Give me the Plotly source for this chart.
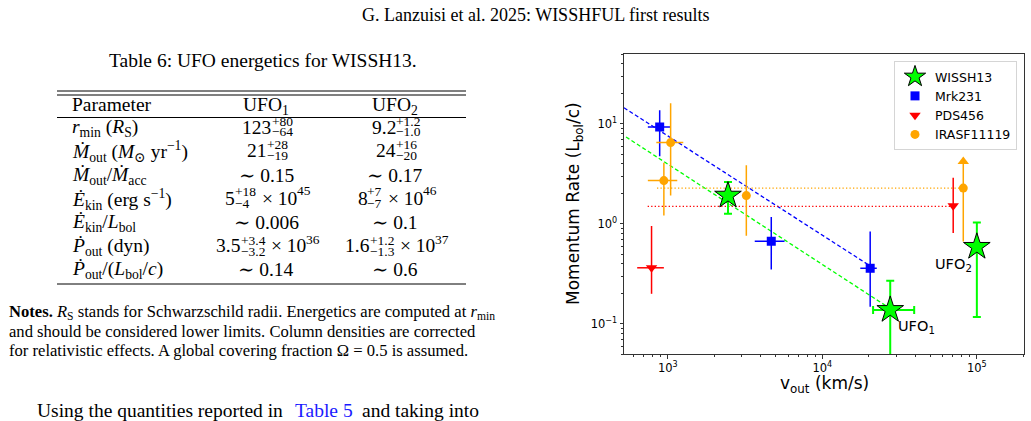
import math
import plotly.graph_objects as go

W, H = 1031, 421

# ---------------- chart data ----------------
wissh_x = [2450, 27500, 100000]
wissh_y = [1.92, 0.138, 0.59]
wissh_y_lo = [1.26, 0.01, 0.117]
wissh_y_hi = [2.63, 0.27, 1.03]
wissh_x_lo = [None, 21300, None]
wissh_x_hi = [None, 39300, None]

mrk_x = [885, 4670, 20400]
mrk_y = [9.3, 0.67, 0.36]
mrk_x_lo = [742, 3650, 17600]
mrk_x_hi = [1040, 5690, 22500]
mrk_y_lo = [4.75, 0.35, 0.148]
mrk_y_hi = [13.7, 1.17, 0.84]

pds_x = [784, 70300]
pds_y = [0.364, 1.52]
pds_x_lo = [633, None]
pds_x_hi = [942, None]
pds_y_lo = [0.2, 0.81]
pds_y_hi = [0.955, 2.9]

iras_x = [1042, 942, 3220, 81700]
iras_y = [6.5, 2.71, 1.92, 2.28]
iras_x_lo = [842, 742, None, None]
iras_x_hi = [1258, 1150, None, None]
iras_y_lo = [1.92, 1.21, 0.76, 0.665]
iras_y_hi = [16.1, 4.08, 3.86, 4.2]
iras_lim_x = [81700]
iras_lim_y = [4.2]

green_fit_x = [536, 27000]
green_fit_y = [7.4, 0.145]
blue_fit_x = [520, 20400]
blue_fit_y = [14.5, 0.38]
pds_ref_x = [740, 70300]
pds_ref_y = [1.5, 1.5]
iras_ref_x = [850, 81700]
iras_ref_y = [2.28, 2.28]

ufo_labels = ["UFO<sub>1</sub>", "UFO<sub>2</sub>"]

x_tickvals = [1e3, 1e4, 1e5]
x_ticktext = ["10<sup>3</sup>", "10<sup>4</sup>", "10<sup>5</sup>"]
y_tickvals = [0.1, 1, 10]
y_ticktext = ["10<sup>\u22121</sup>", "10<sup>0</sup>", "10<sup>1</sup>"]

# ---------------- table data ----------------
row_labels = [
    "<i>r</i><sub>min</sub> (<i>R</i><sub>S</sub>)",
    "<i>\u1E40</i><sub>out</sub> (<i>M</i><sub>\u2299</sub> yr<sup>\u22121</sup>)",
    "<i>\u1E40</i><sub>out</sub>/<i>\u1E40</i><sub>acc</sub>",
    "<i>\u0116</i><sub>kin</sub> (erg s<sup>\u22121</sup>)",
    "<i>\u0116</i><sub>kin</sub>/<i>L</i><sub>bol</sub>",
    "<i>\u1E56</i><sub>out</sub> (dyn)",
    "<i>\u1E56</i><sub>out</sub>/(<i>L</i><sub>bol</sub>/<i>c</i>)",
]
# each cell: (base, sup, sub, tail, tail_exp)
ufo1_cells = [
    ("123", "+80", "\u221264", "", ""),
    ("21", "+28", "\u221219", "", ""),
    ("\u223C 0.15", "", "", "", ""),
    ("5", "+18", "\u22124", " \u00D7 10", "45"),
    ("\u223C 0.006", "", "", "", ""),
    ("3.5", "+3.4", "\u22123.2", " \u00D7 10", "36"),
    ("\u223C 0.14", "", "", "", ""),
]
ufo2_cells = [
    ("9.2", "+1.2", "\u22121.0", "", ""),
    ("24", "+16", "\u221220", "", ""),
    ("\u223C 0.17", "", "", "", ""),
    ("8", "+7", "\u22127", " \u00D7 10", "46"),
    ("\u223C 0.1", "", "", "", ""),
    ("1.6", "+1.2", "\u22121.3", " \u00D7 10", "37"),
    ("\u223C 0.6", "", "", "", ""),
]
table_title = "Table 6: UFO energetics for WISSH13."
col_headers = ["Parameter", "UFO<sub>1</sub>", "UFO<sub>2</sub>"]

header_text = "G. Lanzuisi et al. 2025: WISSHFUL first results"
notes_lines = [
    "<b>Notes.</b> <i>R</i><sub>S</sub> stands for Schwarzschild radii. Energetics are computed at <i>r</i><sub>min</sub>",
    "and should be considered lower limits. Column densities are corrected",
    "for relativistic effects. A global covering fraction \u03A9 = 0.5 is assumed.",
]
body_parts = ["Using the quantities reported in", "Table 5", "and taking into"]

# ---------------- helpers ----------------
SERIF = "Liberation Serif, Times New Roman, DejaVu Serif, serif"
SANS = "DejaVu Sans, Verdana, sans-serif"


def px(x):
    return x / W


def py(y):
    return 1 - y / H


def errs(v, lo, hi):
    plus = [None if h is None else h - a for a, h in zip(v, hi)]
    minus = [None if l is None else a - l for a, l in zip(v, lo)]
    return plus, minus


TW = {c: 500 for c in "0123456789"}
TW.update({".": 250, "+": 564, "\u2212": 564, " ": 250, "\u00D7": 564, "\u223C": 541})


def tw(s, fs):
    return sum(TW.get(c, 500) for c in s) / 1000.0 * fs


annotations = []
shapes = []


def text(x, y, t, size, family=SERIF, xanchor="left", color="black", **kw):
    annotations.append(dict(x=px(x), y=py(y), xref="paper", yref="paper", text=t,
                            showarrow=False, xanchor=xanchor, yanchor="middle",
                            font=dict(size=size, family=family, color=color), **kw))


def hline(x0, x1, y, w=1):
    shapes.append(dict(type="line", xref="paper", yref="paper", x0=px(x0), x1=px(x1),
                       y0=py(y), y1=py(y), line=dict(color="black", width=w)))


FS = 19.5
FSS = 13.5


def cell(xc, yc, c):
    base, sup, sub, tail, texp = c
    if not sup:
        text(xc, yc, base, FS, xanchor="center")
        return
    wb = tw(base, FS)
    ws = max(tw(sup, FSS), tw(sub, FSS)) + 1
    wt = tw(tail, FS) + (tw(texp, FSS) if texp else 0)
    x0 = xc - (wb + ws + wt) / 2
    text(x0, yc, base, FS)
    text(x0 + wb, yc - 6, sup, FSS)
    text(x0 + wb, yc + 5, sub, FSS)
    if tail:
        text(x0 + wb + ws, yc, tail, FS)
        text(x0 + wb + ws + tw(tail, FS), yc - 7, texp, FSS)


# ---------------- page text & table ----------------
text(535, 15, header_text, 18, xanchor="center")
text(263, 60, table_title, 19.5, xanchor="center")
hline(57, 466, 91)
hline(57, 466, 95)
hline(57, 466, 117.5)
hline(57, 466, 284)
text(70, 105, col_headers[0], FS)
text(266, 106, col_headers[1], FS, xanchor="center")
text(395, 106, col_headers[2], FS, xanchor="center")
row_y = [127, 150, 175, 198, 222, 246, 269]
for ry, lab, c1, c2 in zip(row_y, row_labels, ufo1_cells, ufo2_cells):
    text(70, ry + 1, lab, FS)
    cell(266, ry, c1)
    cell(395, ry, c2)

for yy, ln in zip([312, 331, 350], notes_lines):
    text(7, yy, ln, 16.6)
text(35, 410, body_parts[0], 19.5)
text(324, 410, body_parts[1], 19.5, xanchor="center", color="#1a1aff")
text(481, 410, body_parts[2], 19.5, xanchor="right")

# ---------------- chart ----------------
fig = go.Figure()
fig.add_trace(go.Scatter(x=blue_fit_x, y=blue_fit_y, mode="lines", showlegend=False,
                         line=dict(color="#0000ff", width=1.3, dash="4px,2.5px"), hoverinfo="skip"))
fig.add_trace(go.Scatter(x=green_fit_x, y=green_fit_y, mode="lines", showlegend=False,
                         line=dict(color="#00ff00", width=1.3, dash="4px,2.5px"), hoverinfo="skip"))
fig.add_trace(go.Scatter(x=pds_ref_x, y=pds_ref_y, mode="lines", showlegend=False,
                         line=dict(color="#ff0000", width=1.3, dash="1.3px,2.2px"), hoverinfo="skip"))
fig.add_trace(go.Scatter(x=iras_ref_x, y=iras_ref_y, mode="lines", showlegend=False,
                         line=dict(color="orange", width=1.3, dash="1.3px,2.2px"), hoverinfo="skip"))

p, m = errs(wissh_y, wissh_y_lo, wissh_y_hi)
px_, mx_ = errs(wissh_x, wissh_x_lo, wissh_x_hi)
fig.add_trace(go.Scatter(
    x=wissh_x, y=wissh_y, mode="markers", name="WISSH13",
    marker=dict(symbol="star", size=20, color="#00ff00", line=dict(color="black", width=1)),
    error_y=dict(type="data", array=p, arrayminus=m, color="#00ff00", thickness=2, width=4),
    error_x=dict(type="data", array=px_, arrayminus=mx_, color="#00ff00", thickness=2, width=4),
))

series = [
    ("Mrk231", mrk_x, mrk_y, mrk_x_lo, mrk_x_hi, mrk_y_lo, mrk_y_hi, "#0000ff", "square", 9),
    ("PDS456", pds_x, pds_y, pds_x_lo, pds_x_hi, pds_y_lo, pds_y_hi, "#ff0000", "triangle-down", 10),
    ("IRASF11119", iras_x, iras_y, iras_x_lo, iras_x_hi, iras_y_lo, iras_y_hi, "orange", "circle", 9),
]
for name, xs, ys, xl, xh, yl, yh, col, sym, sz in series:
    p, m = errs(ys, yl, yh)
    px_, mx_ = errs(xs, xl, xh)
    fig.add_trace(go.Scatter(
        x=xs, y=ys, mode="markers", name=name,
        marker=dict(symbol=sym, size=sz, color=col, line=dict(width=0)),
        error_y=dict(type="data", array=p, arrayminus=m, color=col, thickness=1.5, width=0),
        error_x=dict(type="data", array=px_, arrayminus=mx_, color=col, thickness=1.5, width=0),
    ))
fig.add_trace(go.Scatter(x=iras_lim_x, y=iras_lim_y, mode="markers", showlegend=False,
                         marker=dict(symbol="triangle-up", size=10, color="orange"), hoverinfo="skip"))

# UFO labels tied to the star positions
annotations.append(dict(x=math.log10(wissh_x[1]), y=math.log10(wissh_y[1]), xref="x", yref="y",
                        text=ufo_labels[0], showarrow=False, xanchor="left", yanchor="middle",
                        xshift=6, yshift=-17, font=dict(size=14.5, family=SANS, color="black")))
annotations.append(dict(x=math.log10(wissh_x[2]), y=math.log10(wissh_y[2]), xref="x", yref="y",
                        text=ufo_labels[1], showarrow=False, xanchor="right", yanchor="middle",
                        xshift=-3, yshift=-18, font=dict(size=14.5, family=SANS, color="black")))
# axis titles
text(574, 204, "Momentum Rate (L<sub>bol</sub>/c)", 17, family=SANS, xanchor="center", textangle=-90)
text(824, 384, "v<sub>out</sub> (km/s)", 17, family=SANS, xanchor="center")

x_minor = [k * 10 ** e for e in range(2, 6) for k in range(2, 10)]
y_minor = [k * 10 ** e for e in range(-2, 2) for k in range(2, 10)]

axis_common = dict(type="log", showgrid=False, zeroline=False, showline=True,
                   linecolor="#333333", linewidth=1, mirror=True, ticks="outside",
                   ticklen=3.5, tickwidth=1, tickcolor="#333333",
                   tickfont=dict(family=SANS, size=11.5, color="black"))
fig.update_xaxes(**axis_common, range=[2.716, 5.302], domain=[px(624), px(1023.5)],
                 tickmode="array", tickvals=x_tickvals, ticktext=x_ticktext,
                 minor=dict(tickmode="array", tickvals=x_minor, ticks="outside", ticklen=2,
                            tickwidth=0.8, tickcolor="#333333", showgrid=False))
fig.update_yaxes(**axis_common, range=[-1.301, 1.699], domain=[py(354), py(54)],
                 tickmode="array", tickvals=y_tickvals, ticktext=y_ticktext,
                 minor=dict(tickmode="array", tickvals=y_minor, ticks="outside", ticklen=2,
                            tickwidth=0.8, tickcolor="#333333", showgrid=False))

fig.update_layout(
    width=W, height=H, margin=dict(l=0, r=0, t=0, b=0),
    paper_bgcolor="white", plot_bgcolor="white",
    annotations=annotations, shapes=shapes,
    legend=dict(x=px(1017), y=py(61), xanchor="right", yanchor="top",
                bgcolor="rgba(255,255,255,0.85)", bordercolor="#d5d5d5", borderwidth=1,
                font=dict(family=SANS, size=12.5, color="black"), itemsizing="trace",
                tracegroupgap=0),
)
fig.write_html("out.html")
